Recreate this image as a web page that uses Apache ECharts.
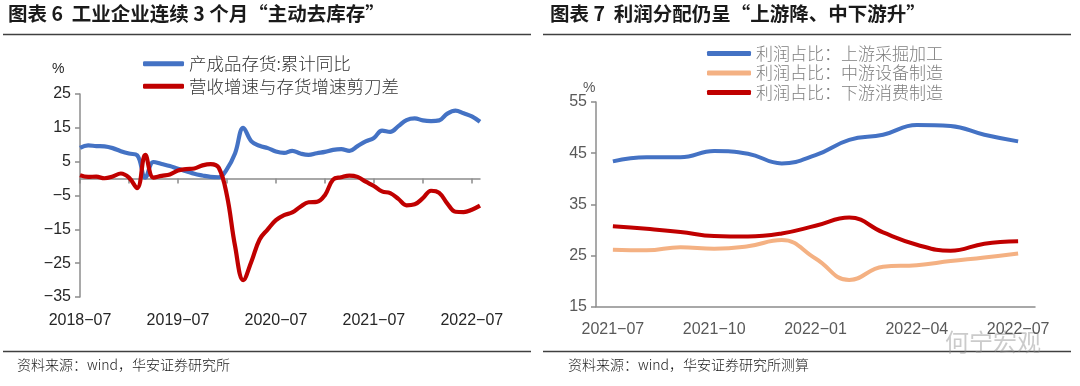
<!DOCTYPE html>
<html>
<head>
<meta charset="utf-8">
<script src="https://cdn.jsdelivr.net/npm/echarts@6/dist/echarts.min.js"></script>
<style>
html,body{margin:0;padding:0;background:#fff;}
#c{width:1080px;height:386px;}
</style>
</head>
<body>
<div id="c"></div>
<script>
// ---------- Left chart data ----------
const leftMonths = ['2018-07','2018-08','2018-09','2018-10','2018-11','2018-12',
 '2019-01','2019-02','2019-03','2019-04','2019-05','2019-06','2019-07','2019-08','2019-09','2019-10','2019-11','2019-12',
 '2020-01','2020-02','2020-03','2020-04','2020-05','2020-06','2020-07','2020-08','2020-09','2020-10','2020-11','2020-12',
 '2021-01','2021-02','2021-03','2021-04','2021-05','2021-06','2021-07','2021-08','2021-09','2021-10','2021-11','2021-12',
 '2022-01','2022-02','2022-03','2022-04','2022-05','2022-06','2022-07','2022-08'];
const inventoryYoY = [9.1,9.8,9.6,9.5,9.0,8.1,7.4,6.9,0.3,4.9,4.3,3.7,2.9,2.2,1.4,0.9,0.5,0.4,
 2.8,7.5,15.0,11.0,9.7,9.0,8.0,7.6,8.2,7.4,7.0,7.5,7.9,8.5,8.7,8.2,9.6,11.0,12.0,14.2,13.8,15.5,
 17.3,17.8,17.2,17.0,17.2,19.2,20.1,19.3,18.4,16.8];
const revenueInvGap = [1.0,0.5,0.6,0.1,0.6,1.5,0.3,-2.8,7.0,0.3,0.8,1.2,2.4,2.8,3.0,3.9,4.3,3.2,
 -5.0,-20.0,-30.0,-24.5,-18.0,-15.0,-12.3,-10.8,-10.0,-8.3,-7.0,-6.9,-4.9,-0.3,0.4,0.9,0.5,-0.9,
 -2.2,-3.8,-4.3,-6.0,-7.9,-7.6,-5.8,-3.6,-4.2,-7.4,-9.8,-9.9,-9.2,-8.0];
const leftTicks = [-35,-25,-15,-5,5,15,25];

// ---------- Right chart data ----------
const rightMonths = ['2021-07','2021-08','2021-09','2021-10','2021-11','2021-12','2022-01',
 '2022-02','2022-03','2022-04','2022-05','2022-06','2022-07'];
const upstreamShare = [43.4,44.2,44.2,45.4,44.9,43.0,44.6,47.6,48.6,50.5,50.3,48.6,47.3];
const midstreamShare = [26.1,26.0,26.6,26.3,26.8,28.0,24.4,20.2,22.8,23.1,23.9,24.6,25.4];
const downstreamShare = [30.7,30.2,29.6,28.8,28.7,29.3,30.8,32.4,29.5,27.1,25.9,27.3,27.8];
const rightTicks = [15,25,35,45,55];

const NUM = 'Liberation Sans, Arial, sans-serif';
const CJK = '"Noto Sans CJK SC", sans-serif';
const dash = s => String(s).replace('-', '\u2212');

const chart = echarts.init(document.getElementById('c'), null, {renderer:'canvas'});
chart.setOption({
  animation:false,
  backgroundColor:'#fff',
  grid:[
    {left:80, top:94, width:400, height:203},
    {left:596, top:102, width:439, height:204.6}
  ],
  legend:[
    {data:['产成品存货:累计同比','营收增速与存货增速剪刀差'], orient:'vertical', left:138, top:50,
     icon:'roundRect', itemWidth:41, itemHeight:5, itemGap:5,
     textStyle:{fontFamily:CJK, fontSize:17.5, color:'#333', fontWeight:300}},
    {data:['利润占比：上游采掘加工','利润占比：中游设备制造','利润占比：下游消费制造'], orient:'vertical', left:702, top:40,
     icon:'roundRect', itemWidth:44, itemHeight:5, itemGap:2.5,
     textStyle:{fontFamily:CJK, fontSize:17, color:'#7f7f7f', fontWeight:300}}
  ],
  xAxis:[
    {type:'category', gridIndex:0, data:leftMonths, boundaryGap:false,
     axisLine:{onZero:true, lineStyle:{color:'#8c8c8c', width:1.5}},
     axisTick:{interval:5, length:5, lineStyle:{color:'#8c8c8c', width:1.5}},
     axisLabel:{show:false}, splitLine:{show:false}},
    {type:'category', gridIndex:0, data:leftMonths, boundaryGap:false, position:'bottom',
     axisLine:{show:false, onZero:false}, axisTick:{show:false},
     axisLabel:{interval:11, margin:16, fontFamily:NUM, fontSize:16, color:'#262626', formatter:dash}},
    {type:'category', gridIndex:1, data:rightMonths, boundaryGap:true,
     axisLine:{lineStyle:{color:'#8c8c8c', width:1.5}},
     axisTick:{interval:2, length:5, lineStyle:{color:'#8c8c8c', width:1.5}},
     axisLabel:{interval:2, margin:15, fontFamily:NUM, fontSize:16, color:'#595959', formatter:dash}}
  ],
  yAxis:[
    {type:'value', gridIndex:0, min:-35, max:25,
     axisLine:{show:true, lineStyle:{color:'#8c8c8c', width:1.5}},
     axisTick:{show:true, length:5, customValues:leftTicks, lineStyle:{color:'#8c8c8c', width:1.5}},
     axisLabel:{customValues:leftTicks, margin:9, fontFamily:NUM, fontSize:16, color:'#262626', formatter:dash},
     splitLine:{show:false}},
    {type:'value', gridIndex:1, min:15, max:55, interval:10,
     axisLine:{show:true, lineStyle:{color:'#8c8c8c', width:1.5}},
     axisTick:{show:true, length:5, lineStyle:{color:'#8c8c8c', width:1.5}},
     axisLabel:{margin:9, fontFamily:NUM, fontSize:16, color:'#595959'},
     splitLine:{show:false}}
  ],
  series:[
    {name:'产成品存货:累计同比', type:'line', xAxisIndex:0, yAxisIndex:0, data:inventoryYoY,
     smooth:0.4, showSymbol:false, lineStyle:{width:4.2, color:'#4472C4'}, itemStyle:{color:'#4472C4'}},
    {name:'营收增速与存货增速剪刀差', type:'line', xAxisIndex:0, yAxisIndex:0, data:revenueInvGap,
     smooth:0.4, showSymbol:false, lineStyle:{width:4.2, color:'#C00000'}, itemStyle:{color:'#C00000'}},
    {name:'利润占比：上游采掘加工', type:'line', xAxisIndex:2, yAxisIndex:1, data:upstreamShare,
     smooth:0.45, showSymbol:false, lineStyle:{width:4, color:'#4472C4'}, itemStyle:{color:'#4472C4'}},
    {name:'利润占比：中游设备制造', type:'line', xAxisIndex:2, yAxisIndex:1, data:midstreamShare,
     smooth:0.45, showSymbol:false, lineStyle:{width:4, color:'#F4B183'}, itemStyle:{color:'#F4B183'}},
    {name:'利润占比：下游消费制造', type:'line', xAxisIndex:2, yAxisIndex:1, data:downstreamShare,
     smooth:0.45, showSymbol:false, lineStyle:{width:4, color:'#C00000'}, itemStyle:{color:'#C00000'}}
  ],
  graphic:[
    {type:'text', left:8, top:4, style:{text:'图表 6  工业企业连续 3 个月“主动去库存”', fontFamily:CJK, fontWeight:'bold', fontSize:19.5, fill:'#1a1a1a'}},
    {type:'text', left:550, top:4, style:{text:'图表 7  利润分配仍呈“上游降、中下游升”', fontFamily:CJK, fontWeight:'bold', fontSize:19.5, fill:'#1a1a1a'}},
    {type:'line', shape:{x1:3, y1:34.5, x2:531, y2:34.5}, style:{stroke:'#404040', lineWidth:1.3}},
    {type:'line', shape:{x1:543, y1:34.5, x2:1071, y2:34.5}, style:{stroke:'#404040', lineWidth:1.3}},
    {type:'line', shape:{x1:3, y1:351.5, x2:531, y2:351.5}, style:{stroke:'#404040', lineWidth:1.3}},
    {type:'line', shape:{x1:543, y1:351.5, x2:1071, y2:351.5}, style:{stroke:'#404040', lineWidth:1.3}},
    {type:'text', left:52, top:62, style:{text:'%', fontFamily:NUM, fontSize:14, fill:'#262626'}},
    {type:'text', left:583, top:81, style:{text:'%', fontFamily:NUM, fontSize:14, fill:'#595959'}},
    {type:'text', left:17, top:358, style:{text:'资料来源：wind，华安证券研究所', fontFamily:CJK, fontSize:14, fill:'#1a1a1a', fontWeight:300}},
    {type:'text', left:568, top:358, style:{text:'资料来源：wind，华安证券研究所测算', fontFamily:CJK, fontSize:14, fill:'#1a1a1a', fontWeight:300}},
    {type:'text', left:945, top:330, style:{text:'何宁宏观', fontFamily:CJK, fontSize:24, fill:'rgba(140,140,140,0.45)'}}
  ]
});
</script>
</body>
</html>
